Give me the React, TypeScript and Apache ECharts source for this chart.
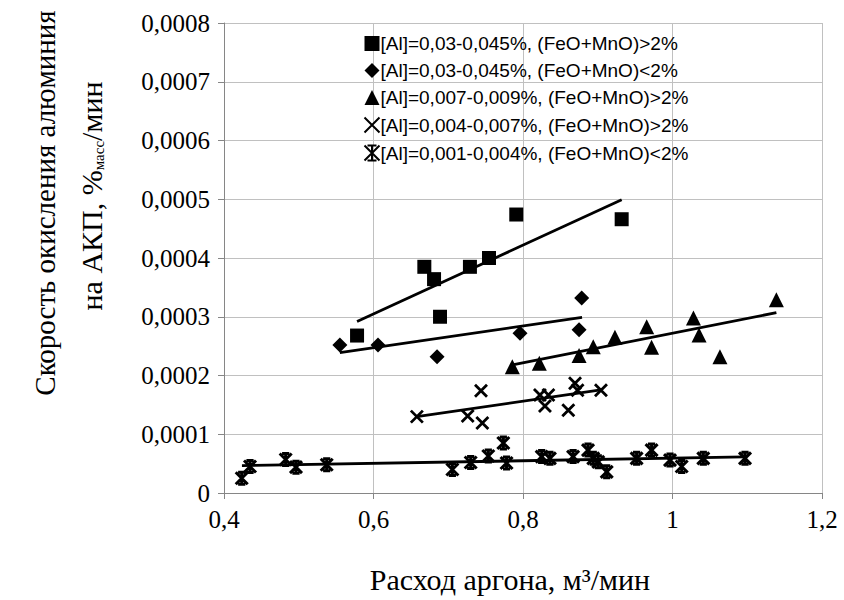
import React, { useEffect, useRef } from 'react';
import * as echarts from 'echarts';

// ---- data ----
const seriesNames = [
  '[Al]=0,03-0,045%, (FeO+MnO)>2%',
  '[Al]=0,03-0,045%, (FeO+MnO)<2%',
  '[Al]=0,007-0,009%, (FeO+MnO)>2%',
  '[Al]=0,004-0,007%, (FeO+MnO)>2%',
  '[Al]=0,001-0,004%, (FeO+MnO)<2%',
];

const squarePts: [number, number][] = [
  [0.578, 0.000268], [0.668, 0.000385], [0.681, 0.000364], [0.689, 0.0003],
  [0.729, 0.000385], [0.7545, 0.0004], [0.791, 0.000474], [0.932, 0.000466],
];
const diamondPts: [number, number][] = [
  [0.555, 0.000252], [0.606, 0.000252], [0.685, 0.000232], [0.796, 0.000272],
  [0.8785, 0.000332], [0.875, 0.000278],
];
const trianglePts: [number, number][] = [
  [0.7857, 0.000215], [0.8218, 0.000221], [0.875, 0.000234], [0.894, 0.000249],
  [0.923, 0.000265], [0.9655, 0.000283], [0.972, 0.000248], [1.028, 0.000298],
  [1.0355, 0.000269], [1.0635, 0.000232], [1.139, 0.000329],
];
const crossPts: [number, number][] = [
  [0.658, 0.00013], [0.726, 0.000131], [0.7438, 0.000174], [0.7456, 0.000119],
  [0.8227, 0.000167], [0.834, 0.000167], [0.8294, 0.000148], [0.8696, 0.000187],
  [0.873, 0.000175], [0.8606, 0.000141], [0.9043, 0.000175],
];
const starPts: [number, number][] = [
  [0.4237, 0.000025], [0.4348, 0.000045], [0.4825, 0.000057], [0.4963, 0.000044],
  [0.5374, 0.000048], [0.7055, 0.00004], [0.73, 0.000052], [0.7536, 0.000063],
  [0.7737, 0.000085], [0.778, 0.000051], [0.825, 0.000062], [0.836, 0.000059],
  [0.867, 0.000062], [0.887, 0.000073], [0.894, 0.000059], [0.9007, 0.000053],
  [0.912, 0.000036], [0.952, 0.000059], [0.972, 0.000073], [0.9967, 0.000056],
  [1.0123, 0.000045], [1.0412, 0.000059], [1.097, 0.000059],
];

// linear trend lines (end points as drawn)
const trendSquare: [number, number][] = [[0.578, 0.000292], [0.932, 0.000499]];
const trendDiamond: [number, number][] = [[0.555, 0.000239], [0.879, 0.000299]];
const trendTriangle: [number, number][] = [[0.786, 0.000218], [1.139, 0.000307]];
const trendCross: [number, number][] = [[0.658, 0.00013], [0.904, 0.0001755]];
const trendStar: [number, number][] = [[0.424, 0.0000465], [1.097, 0.0000615]];

const xTitle = 'Расход аргона, м³/мин';
const yTitle1 = 'Скорость окисления алюминия';

const CROSS = 'path://M0,0L10,10M10,0L0,10';
const STAR = 'path://M0,0L10,10M10,0L0,10M5,0L5,10M2,0L8,0M2,10L8,10';

const SERIF = 'Liberation Serif';
const SANS = 'Liberation Sans';

export default function App() {
  const ref = useRef<HTMLDivElement>(null);
  useEffect(() => {
    if (!ref.current) return;
    const chart = echarts.init(ref.current, undefined, { renderer: 'svg' });
    const scatterBase = { type: 'scatter' as const, z: 3 };
    const trend = (data: [number, number][]) => ({
      type: 'line' as const,
      data,
      showSymbol: false,
      symbol: 'none',
      lineStyle: { color: '#000', width: 2.8 },
      z: 2,
      silent: true,
    });
    chart.setOption({
      animation: false,
      backgroundColor: '#fff',
      grid: { left: 224, right: 22, top: 23, bottom: 107 },
      xAxis: {
        type: 'value',
        min: 0.4,
        max: 1.2,
        interval: 0.2,
        axisLine: { show: true, lineStyle: { color: '#868686', width: 1 } },
        axisTick: { show: true, inside: false, length: 6, lineStyle: { color: '#868686' } },
        splitLine: { show: true, lineStyle: { color: '#c0c0c0', width: 1 } },
        axisLabel: {
          color: '#000',
          fontFamily: SERIF,
          fontSize: 25,
          margin: 14,
          formatter: (v: number) => String(+v.toFixed(1)).replace('.', ','),
        },
      },
      yAxis: {
        type: 'value',
        min: 0,
        max: 0.0008,
        interval: 0.0001,
        axisLine: { show: true, lineStyle: { color: '#868686', width: 1 } },
        axisTick: { show: true, inside: false, length: 6, lineStyle: { color: '#868686' } },
        splitLine: { show: true, lineStyle: { color: '#c0c0c0', width: 1 } },
        axisLabel: {
          color: '#000',
          fontFamily: SERIF,
          fontSize: 25,
          margin: 14,
          formatter: (v: number) => (v === 0 ? '0' : v.toFixed(4).replace('.', ',')),
        },
      },
      legend: {
        data: seriesNames,
        orient: 'vertical',
        left: 357,
        top: 29,
        itemGap: 8,
        itemWidth: 15,
        itemHeight: 15,
        textStyle: { color: '#000', fontFamily: SANS, fontSize: 19, padding: [0, 0, 0, -4] },
      },
      graphic: [
        {
          type: 'text',
          x: 45,
          y: 203,
          rotation: Math.PI / 2,
          style: {
            text: yTitle1,
            fontFamily: SERIF,
            fontSize: 29,
            fill: '#000',
            align: 'center',
            verticalAlign: 'middle',
          },
        },
        {
          type: 'text',
          x: 91,
          y: 196,
          rotation: Math.PI / 2,
          style: {
            text: '{a|на АКП, %}{s|масс}{a|/мин}',
            align: 'center',
            verticalAlign: 'middle',
            rich: {
              a: { fontFamily: SERIF, fontSize: 30, fill: '#000', verticalAlign: 'middle' },
              s: { fontFamily: SERIF, fontSize: 15, fill: '#000', verticalAlign: 'bottom', padding: [14, 0, 0, 0] },
            },
          },
        },
        {
          type: 'text',
          x: 510,
          y: 579,
          style: {
            text: xTitle,
            fontFamily: SERIF,
            fontSize: 30,
            fill: '#000',
            align: 'center',
            verticalAlign: 'middle',
          },
        },
      ],
      series: [
        { ...scatterBase, name: seriesNames[0], data: squarePts, symbol: 'rect', symbolSize: 14, itemStyle: { color: '#000', opacity: 1 } },
        { ...scatterBase, name: seriesNames[1], data: diamondPts, symbol: 'diamond', symbolSize: 15, itemStyle: { color: '#000', opacity: 1 } },
        { ...scatterBase, name: seriesNames[2], data: trianglePts, symbol: 'triangle', symbolSize: 15, itemStyle: { color: '#000', opacity: 1 } },
        {
          ...scatterBase, name: seriesNames[3], data: crossPts, symbol: CROSS, symbolSize: 12,
          itemStyle: { color: 'none', borderColor: '#000', borderWidth: 2.8, opacity: 1 },
        },
        {
          ...scatterBase, name: seriesNames[4], data: starPts, symbol: STAR, symbolSize: 12,
          itemStyle: { color: 'none', borderColor: '#000', borderWidth: 3, opacity: 1 },
        },
        trend(trendSquare),
        trend(trendDiamond),
        trend(trendTriangle),
        trend(trendCross),
        trend(trendStar),
      ],
    });
    return () => chart.dispose();
  }, []);
  return (
    <div
      ref={ref}
      style={{ position: 'fixed', left: 0, top: 0, width: 844, height: 600, background: '#fff' }}
    />
  );
}
